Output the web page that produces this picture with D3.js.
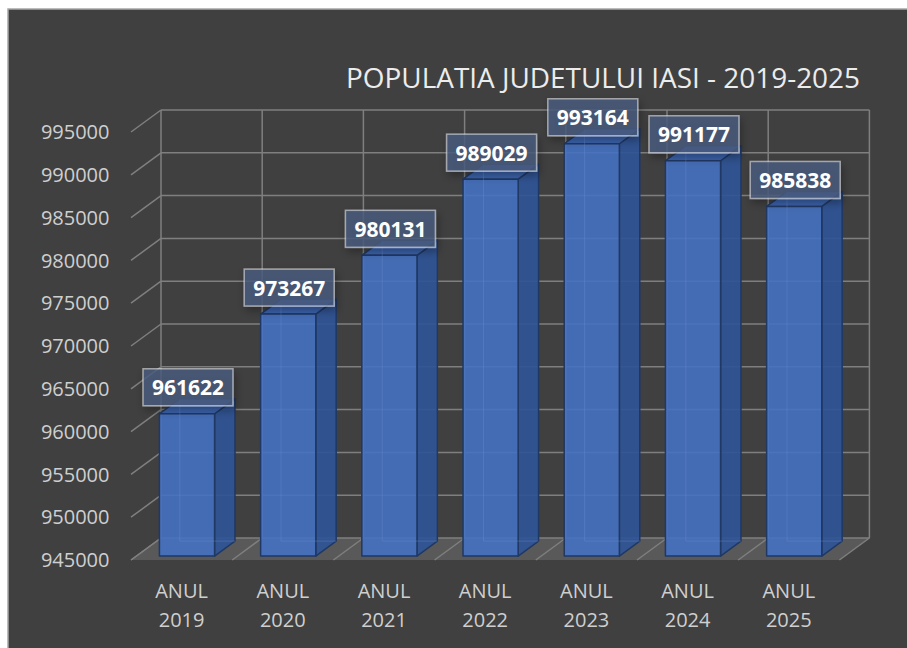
<!DOCTYPE html>
<html>
<head>
<meta charset="utf-8">
<script src="https://cdn.jsdelivr.net/npm/d3@7"></script>
<style>
  html, body { margin: 0; padding: 0; background: #ffffff; }
  svg { display: block; }
</style>
</head>
<body>
<svg id="chart" width="907" height="648"></svg>
<script>
// ---- data ----
const chartTitle = "POPULATIA JUDETULUI IASI - 2019-2025";
const categoryPrefix = "ANUL";
const years = ["2019", "2020", "2021", "2022", "2023", "2024", "2025"];
const population = [961622, 973267, 980131, 989029, 993164, 991177, 985838];
const yTicks = [945000, 950000, 955000, 960000, 965000, 970000, 975000, 980000, 985000, 990000, 995000];

// ---- layout ----
const W = 907, H = 648;
const DX = 30, DY = -22;        // depth offset (front -> back)
const D0 = 0.18, D1 = 0.86;     // bar depth extent
const svg = d3.select("#chart");
const font = "'Open Sans', 'DejaVu Sans', sans-serif";

const x = d3.scaleBand().domain(years).range([131, 839.4]).padding(0);
const y = d3.scaleLinear().domain([yTicks[0], yTicks[yTicks.length - 1]]).range([560, 132]);
const P = (xf, v, d) => [xf + DX * d, y(v) + DY * d];
const vMin = yTicks[0], vMax = yTicks[yTicks.length - 1];

// defs
const defs = svg.append("defs");
const f = defs.append("filter").attr("id", "shadow").attr("x", "-30%").attr("y", "-30%").attr("width", "160%").attr("height", "170%");
f.append("feDropShadow").attr("dx", 2).attr("dy", 4).attr("stdDeviation", 4)
  .attr("flood-color", "#000").attr("flood-opacity", 0.4);

// background
svg.append("rect").attr("x", 0).attr("y", 0).attr("width", W).attr("height", H).attr("fill", "#ffffff");
svg.append("rect").attr("x", 8).attr("y", 9).attr("width", W + 10).attr("height", H + 10)
  .attr("fill", "#404040").attr("stroke", "#a6a6a6").attr("stroke-width", 1.5);

const xFront0 = x.range()[0], xFront1 = x.range()[1];

// floor
const floorPts = [P(xFront0, vMin, 0), P(xFront1, vMin, 0), P(xFront1, vMin, 1), P(xFront0, vMin, 1)];
svg.append("polygon").attr("points", floorPts.map(p => p.join(",")).join(" "))
  .attr("fill", "#595959");

const grid = svg.append("g").attr("stroke", "#7f7f7f").attr("stroke-width", 1.5).attr("fill", "none");

// back wall horizontal gridlines + side wall lines
yTicks.forEach(v => {
  const a = P(xFront0, v, 1), b = P(xFront1, v, 1), c = P(xFront0, v, 0);
  grid.append("line").attr("x1", a[0]).attr("y1", a[1]).attr("x2", b[0]).attr("y2", b[1]);
  grid.append("line").attr("x1", c[0]).attr("y1", c[1]).attr("x2", a[0]).attr("y2", a[1]);
});
// back wall verticals + floor diagonals at category boundaries
const bounds = years.map(d => x(d)).concat([xFront1]);
bounds.forEach(bx => {
  const t = P(bx, vMax, 1), b = P(bx, vMin, 1), fr = P(bx, vMin, 0);
  grid.append("line").attr("x1", t[0]).attr("y1", t[1]).attr("x2", b[0]).attr("y2", b[1]);
  grid.append("line").attr("x1", fr[0]).attr("y1", fr[1]).attr("x2", b[0]).attr("y2", b[1]);
});

// y axis labels
svg.append("g").selectAll("text").data(yTicks).join("text")
  .attr("x", 109.5).attr("y", d => y(d)).attr("dy", "0.36em")
  .attr("text-anchor", "end").attr("font-family", font).attr("font-size", 20)
  .attr("fill", "#cfcfcf").text(d => d);

// x axis labels
const xl = svg.append("g").selectAll("text").data(years).join("text")
  .attr("text-anchor", "middle").attr("font-family", font).attr("font-size", 20).attr("fill", "#cfcfcf");
xl.append("tspan").attr("x", d => x(d) + x.bandwidth() / 2).attr("y", 598).text(categoryPrefix);
xl.append("tspan").attr("x", d => x(d) + x.bandwidth() / 2).attr("y", 626.5).text(d => d);

// bars
const bw = x.bandwidth() * 0.545;
const bars = svg.append("g");
years.forEach((yr, i) => {
  const v = population[i];
  const l = x(yr) + (x.bandwidth() - bw) / 2, r = l + bw;
  const g = bars.append("g").attr("stroke", "#203864").attr("stroke-width", 1.5).attr("stroke-linejoin", "round");
  const poly = pts => pts.map(p => p.join(",")).join(" ");
  // side
  g.append("polygon").attr("points", poly([P(r, v, D0), P(r, v, D1), P(r, vMin, D1), P(r, vMin, D0)]))
    .attr("fill", "#2f5496").attr("fill-opacity", 0.92);
  // top
  g.append("polygon").attr("points", poly([P(l, v, D0), P(r, v, D0), P(r, v, D1), P(l, v, D1)]))
    .attr("fill", "#3b64b0").attr("fill-opacity", 0.95);
  // front
  const a = P(l, v, D0), b = P(r, vMin, D0);
  g.append("rect").attr("x", a[0]).attr("y", a[1]).attr("width", b[0] - a[0]).attr("height", b[1] - a[1])
    .attr("fill", "#4472c4").attr("fill-opacity", 0.88);
  // faint hidden back edges (translucency)
  const hb = P(l, v, D1), hbb = P(l, vMin, D1), hr = P(r, vMin, D1);
  g.append("path").attr("d", `M${hb[0]},${hb[1]}L${hbb[0]},${hbb[1]}L${hr[0]},${hr[1]}`)
    .attr("fill", "none").attr("stroke", "#6d8fd0").attr("stroke-width", 1).attr("stroke-opacity", 0.35);
});

// data labels
const labels = svg.append("g");
years.forEach((yr, i) => {
  const v = population[i];
  const l = x(yr) + (x.bandwidth() - bw) / 2;
  const p = P(l, v, D0);
  const cx = p[0] + bw / 2 + 1;
  const bottom = p[1] - 8;
  const bwid = 90, bh = 37;
  const g = labels.append("g");
  g.append("rect").attr("x", cx - bwid / 2).attr("y", bottom - bh).attr("width", bwid).attr("height", bh)
    .attr("fill", "#4b5d7e").attr("fill-opacity", 0.8)
    .attr("stroke", "#ffffff").attr("stroke-opacity", 0.5).attr("stroke-width", 1.5)
    .attr("filter", "url(#shadow)");
  g.append("text").attr("x", cx).attr("y", bottom - bh + 26.5).attr("text-anchor", "middle")
    .attr("font-family", font).attr("font-weight", "bold").attr("font-size", 21)
    .attr("fill", "#ffffff").text(v);
});

// title
svg.append("text").attr("x", 346).attr("y", 88)
  .attr("font-family", font).attr("font-size", 28).attr("fill", "#ececec")
  .attr("textLength", 514).attr("lengthAdjust", "spacingAndGlyphs")
  .text(chartTitle);
</script>
</body>
</html>
